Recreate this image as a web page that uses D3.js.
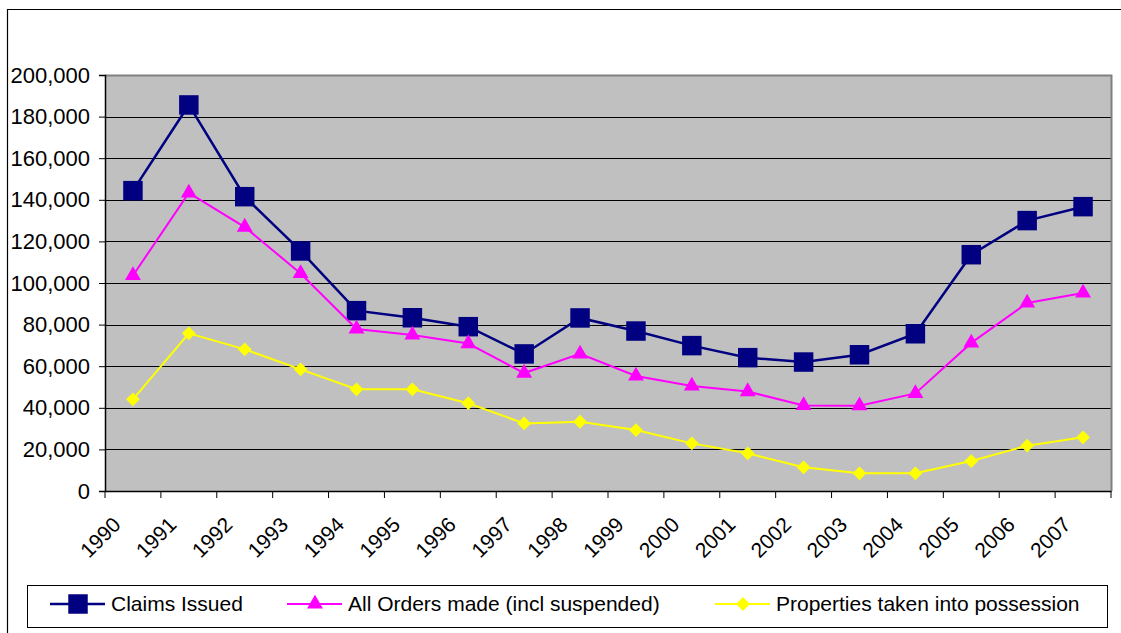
<!DOCTYPE html>
<html><head><meta charset="utf-8">
<script src="https://cdn.jsdelivr.net/npm/d3@7"></script>
<style>body{margin:0;background:#fff}svg{display:block}text{font-family:"Liberation Sans",Arial,sans-serif}</style>
</head><body><svg id="c" width="1121" height="633"></svg>
<script>
const years = ["1990","1991","1992","1993","1994","1995","1996","1997","1998","1999","2000","2001","2002","2003","2004","2005","2006","2007"];
const claimsIssued = [144400,185600,141500,115400,86700,83300,79000,65900,83200,76900,69900,64100,62000,65500,75600,113600,130000,136700];
const allOrders = [103600,143300,126900,104600,77900,75000,70900,56700,65900,55300,50500,47800,41100,41000,46900,71200,90400,95200];
const possessions = [44100,75800,68100,58500,48900,48900,42200,32500,33300,29300,22900,18100,11400,8500,8500,14400,21800,25800];
const yTicks = [0,20000,40000,60000,80000,100000,120000,140000,160000,180000,200000];
const seriesNames = ["Claims Issued","All Orders made (incl suspended)","Properties taken into possession"];

const svg = d3.select("#c");
const L=105, R=1111, T=75, B=491;
const FS = 21;
const x = d3.scaleBand().domain(years).range([L,R]);
const y = d3.scaleLinear().domain([0,200000]).range([B,T]);
const fmt = d3.format(",");

// outer frame
svg.append("path").attr("d","M7.5,633 V9.5 H1121").attr("fill","none").attr("stroke","#000").attr("stroke-width",1.2);

// plot background
svg.append("rect").attr("x",L).attr("y",T).attr("width",R-L).attr("height",B-T).attr("fill","#c0c0c0");
// gridlines
svg.append("g").selectAll("line").data(yTicks.filter(d=>d>0 && d<200000)).join("line")
  .attr("x1",L).attr("x2",R).attr("y1",d=>Math.round(y(d))+0.5).attr("y2",d=>Math.round(y(d))+0.5)
  .attr("stroke","#000").attr("stroke-width",1);
// plot border (top/right gray)
svg.append("path").attr("d",`M${L},${T+0.5} H${R+0.5} V${B}`).attr("fill","none").attr("stroke","#808080").attr("stroke-width",2);

// y axis
const ya = svg.append("g").attr("transform",`translate(${L},0)`)
  .call(d3.axisLeft(y).tickValues(yTicks).tickFormat(fmt).tickSize(6).tickPadding(9));
ya.select(".domain").attr("stroke","#000").attr("stroke-width",1.5);
ya.selectAll(".tick line").attr("stroke","#000");
ya.selectAll("text").attr("font-size",22).attr("fill","#000").attr("font-family","Liberation Sans, Arial, sans-serif");

// x axis
const xa = svg.append("g").attr("transform",`translate(0,${B})`)
  .call(d3.axisBottom(x).tickSize(0).tickFormat(""));
xa.select(".domain").attr("stroke","#000").attr("stroke-width",1.5);
const edges = years.map(d=>x(d)).concat([R]);
xa.append("g").selectAll("line").data(edges).join("line")
  .attr("x1",d=>d).attr("x2",d=>d).attr("y1",0).attr("y2",7).attr("stroke","#000");
xa.append("g").selectAll("text").data(years).join("text")
  .attr("transform",d=>`translate(${x(d)+x.bandwidth()/2-11},${35}) rotate(-45)`)
  .attr("text-anchor","end")
  .attr("font-size",FS).attr("fill","#000").text(d=>d);

const diamond = {draw(ctx,size){const r=Math.sqrt(size/2);ctx.moveTo(0,-r);ctx.lineTo(r,0);ctx.lineTo(0,r);ctx.lineTo(-r,0);ctx.closePath();}};
const line = d3.line().x((d,i)=>x(years[i])+x.bandwidth()/2).y(d=>y(d));
const series = [
  {name:seriesNames[0], values:claimsIssued, color:"#000080", sym:d3.symbolSquare, size:380, w:2.5},
  {name:seriesNames[1], values:allOrders, color:"#ff00ff", sym:d3.symbolTriangle, size:110, w:2},
  {name:seriesNames[2], values:possessions, color:"#ffff00", sym:diamond, size:95, w:2}
];
series.forEach(s=>{
  svg.append("path").attr("d",line(s.values)).attr("fill","none").attr("stroke",s.color).attr("stroke-width",s.w);
  svg.append("g").selectAll("path").data(s.values).join("path")
    .attr("transform",(d,i)=>`translate(${x(years[i])+x.bandwidth()/2},${y(d)})`)
    .attr("d",d3.symbol().type(s.sym).size(s.size)).attr("fill",s.color);
});

// legend
svg.append("rect").attr("x",27.5).attr("y",585.5).attr("width",1080).attr("height",42).attr("fill","#fff").attr("stroke","#000").attr("stroke-width",1);
const legX = [50,287,715];
series.forEach((s,i)=>{
  const g = svg.append("g").attr("transform",`translate(${legX[i]},604)`);
  g.append("line").attr("x1",0).attr("x2",55).attr("stroke",s.color).attr("stroke-width",s.w);
  g.append("path").attr("transform","translate(28,0)").attr("d",d3.symbol().type(s.sym).size(s.size)).attr("fill",s.color);
  g.append("text").attr("x",61).attr("y",0).attr("dy","0.35em").attr("font-size",FS).attr("fill","#000").text(s.name);
});
</script></body></html>
